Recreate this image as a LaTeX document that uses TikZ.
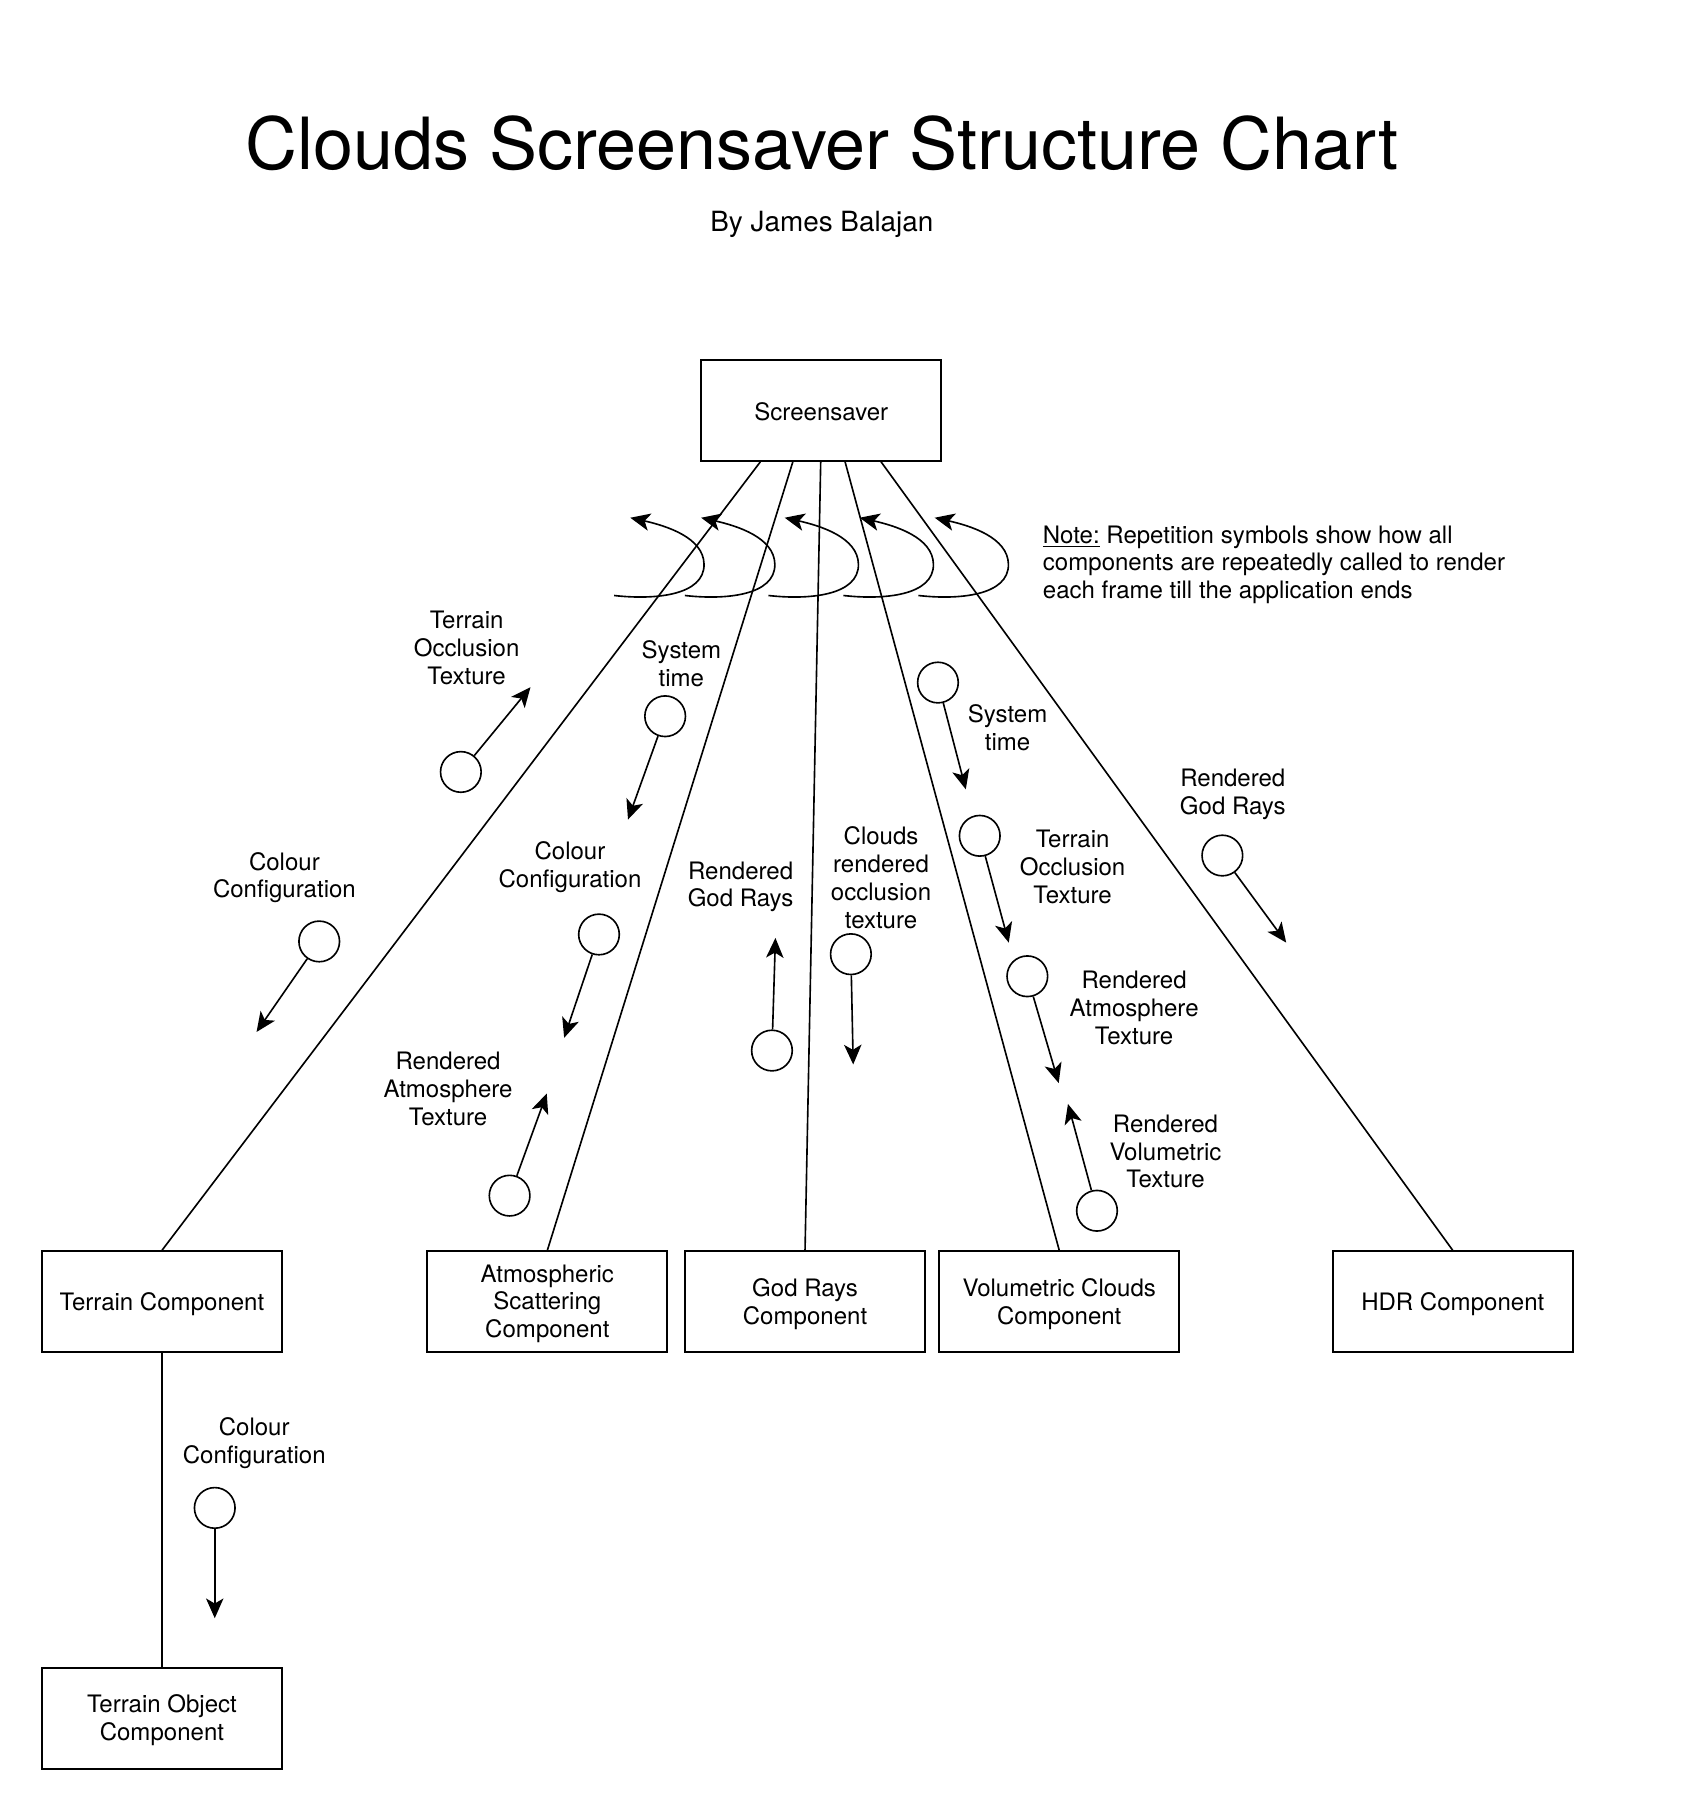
\documentclass[tikz,border=0pt]{standalone}
\usepackage{fontspec}
\setmainfont{TeX Gyre Heros}
\usetikzlibrary{arrows.meta,calc}
\newcommand\lblfont{\fontsize{10.35}{12}\selectfont}
\begin{document}
\begin{tikzpicture}[x=0.5pt,y=-0.5pt,
  box/.style={draw,line width=0.85pt,minimum width=103.5pt,minimum height=43.5pt,inner sep=0pt},
  link/.style={line width=0.7pt},
  couple/.style={draw,circle,line width=0.7pt,minimum size=17.5pt,inner sep=0pt},
  flow/.style={line width=0.7pt,-{Stealth[length=8.5pt,width=7.5pt,inset=2.2pt]}},
  lbl/.style={align=center,font=\lblfont,inner sep=0pt},
  boxtext/.style={lbl,yshift=-0.8pt},
  rep/.pic={\draw[flow] (0,0) .. controls (35,4) and (78,0) .. (77.5,-27) .. controls (77,-50) and (45,-60) .. (14,-67);}]
\useasboundingbox (0,0) rectangle (1457,1567);

% title
\node[inner sep=0pt,font=\fontsize{31}{37}\selectfont] (title) at (708,123) {Clouds Screensaver Structure Chart};
\node[inner sep=0pt,font=\fontsize{12}{14}\selectfont] (author) at (708,193) {By James Balajan};

% boxes
\node[box] (ss) at (707.5,353.5) {};
\node[box] (terrain) at (139.5,1121.5) {};
\node[box] (atmos) at (471.5,1121.5) {};
\node[box] (god) at (693.5,1121.5) {};
\node[box] (vol) at (912.5,1121.5) {};
\node[box] (hdr) at (1251.5,1121.5) {};
\node[box] (tobj) at (139.5,1480) {};
\node[boxtext] (ssT) at (ss) {Screensaver};
\node[boxtext] (terrainT) at (terrain) {Terrain Component};
\node[boxtext] (atmosT) at (atmos) {Atmospheric\\Scattering\\Component};
\node[boxtext] (godT) at (god) {God Rays\\Component};
\node[boxtext] (volT) at (vol) {Volumetric Clouds\\Component};
\node[boxtext] (hdrT) at (hdr) {HDR Component};
\node[boxtext] (tobjT) at (tobj) {Terrain Object\\Component};

% links
\draw[link] ($(ss.south)+(-52.5,0)$) -- (terrain.north);
\draw[link] ($(ss.south)+(-24.5,0)$) -- (atmos.north);
\draw[link] ($(ss.south)+(-0.5,0)$) -- (god.north);
\draw[link] ($(ss.south)+(20.5,0)$) -- (vol.north);
\draw[link] ($(ss.south)+(51.5,0)$) -- (hdr.north);
\draw[link] (terrain.south) -- (tobj.north);

% repetition symbols
\pic at (529,513) {rep};
\pic at (590,513) {rep};
\pic at (662,513) {rep};
\pic at (726.6,513) {rep};
\pic at (791.2,513) {rep};

\node[boxtext,anchor=west,align=left] (note) at (898,485) {\underline{Note:} Repetition symbols show how all\\components are repeatedly called to render\\each frame till the application ends};

% couples
\node[couple] (c1) at (397,665) {};  \coordinate (t1) at (457,592);
\node[couple] (c2) at (573,617) {};  \coordinate (t2) at (541,706);
\node[couple] (c3) at (275,811) {};  \coordinate (t3) at (221,889);
\node[couple] (c4) at (516,805) {};  \coordinate (t4) at (486,894);
\node[couple] (c5) at (439,1030) {}; \coordinate (t5) at (471,942);
\node[couple] (c6) at (665,905) {};  \coordinate (t6) at (668,808);
\node[couple] (c7) at (733,822) {};  \coordinate (t7) at (735,917);
\node[couple] (c8) at (808,588) {};  \coordinate (t8) at (832,680);
\node[couple] (c9) at (844,720) {};  \coordinate (t9) at (869,812);
\node[couple] (c10) at (885,841) {}; \coordinate (t10) at (912,933);
\node[couple] (c11) at (945,1043) {}; \coordinate (t11) at (920,951);
\node[couple] (c12) at (1053,737) {}; \coordinate (t12) at (1108,812);
\node[couple] (c13) at (185,1299) {}; \coordinate (t13) at (185,1394);
\foreach \i in {1,...,13} {\draw[flow] (c\i) -- (t\i);}

% labels
\node[lbl] (l1) at (402,558) {Terrain\\Occlusion\\Texture};
\node[lbl] (l2) at (587,572) {System\\time};
\node[lbl] (l3) at (245,756) {Colour\\Configuration};
\node[lbl] (l4) at (491,747) {Colour\\Configuration};
\node[lbl] (l5) at (386,938) {Rendered\\Atmosphere\\Texture};
\node[lbl] (l6) at (638,764) {Rendered\\God Rays};
\node[lbl] (l7) at (759,756) {Clouds\\rendered\\occlusion\\texture};
\node[lbl] (l8) at (868,627) {System\\time};
\node[lbl] (l9) at (924,747) {Terrain\\Occlusion\\Texture};
\node[lbl] (l10) at (977,868) {Rendered\\Atmosphere\\Texture};
\node[lbl] (l11) at (1004,992) {Rendered\\Volumetric\\Texture};
\node[lbl] (l12) at (1062,684) {Rendered\\God Rays};
\node[lbl] (l13) at (219,1243) {Colour\\Configuration};
\end{tikzpicture}
\end{document}
